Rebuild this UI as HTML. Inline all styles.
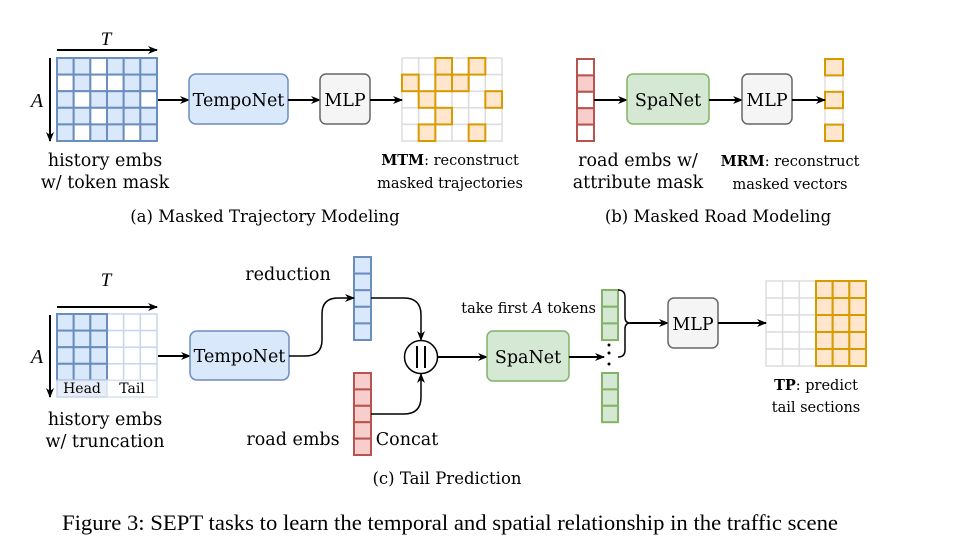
<!DOCTYPE html>
<html><head><meta charset="utf-8"><style>
html,body{margin:0;padding:0;background:#fff;}
svg{display:block;}
text{font-family:"DejaVu Serif",serif;fill:#000;}
</style></head><body>
<svg id="s" width="960" height="552" viewBox="0 0 960 552" xmlns="http://www.w3.org/2000/svg">
<defs>
<marker id="ar" markerWidth="10" markerHeight="8" refX="9" refY="4" orient="auto" markerUnits="userSpaceOnUse"><path d="M0,0 L10,4 L0,8 L3,4 z" fill="#000"/></marker>
</defs>
<g id="grids"></g>
<line x1="57" y1="50" x2="157" y2="50" stroke="#000" stroke-width="2" marker-end="url(#ar)"/>
<text x="106" y="45" font-size="19" font-style="italic" text-anchor="middle" style="font-family:'Liberation Serif',serif">T</text>
<line x1="50" y1="58" x2="50" y2="141" stroke="#000" stroke-width="2" marker-end="url(#ar)"/>
<text x="37" y="107" font-size="20" font-style="italic" text-anchor="middle" style="font-family:'Liberation Serif',serif">A</text>
<line x1="158" y1="100" x2="189" y2="100" stroke="#000" stroke-width="2" marker-end="url(#ar)"/>
<rect x="189" y="74" width="99" height="50" rx="7" fill="#dae8fc" stroke="#6c8ebf" stroke-width="1.5"/>
<text x="238.5" y="106" font-size="17.5" text-anchor="middle">TempoNet</text>
<line x1="288" y1="100" x2="320" y2="100" stroke="#000" stroke-width="2" marker-end="url(#ar)"/>
<rect x="320" y="74" width="50" height="50" rx="6" fill="#f5f5f5" stroke="#666" stroke-width="1.5"/>
<text x="345" y="106" font-size="17.5" text-anchor="middle">MLP</text>
<line x1="370" y1="100" x2="402" y2="100" stroke="#000" stroke-width="2" marker-end="url(#ar)"/>
<text x="105" y="166" font-size="17.5" text-anchor="middle">history embs</text>
<text x="105" y="188" font-size="17.5" text-anchor="middle">w/ token mask</text>
<text x="450" y="165" font-size="14.5" text-anchor="middle"><tspan font-weight="bold">MTM</tspan>: reconstruct</text>
<text x="450" y="188" font-size="14.5" text-anchor="middle">masked trajectories</text>
<text x="265" y="222" font-size="16.5" text-anchor="middle">(a) Masked Trajectory Modeling</text>
<line x1="594" y1="100" x2="627" y2="100" stroke="#000" stroke-width="2" marker-end="url(#ar)"/>
<rect x="627" y="74" width="82" height="50" rx="6" fill="#d5e8d4" stroke="#82b366" stroke-width="1.5"/>
<text x="668" y="106" font-size="17.5" text-anchor="middle">SpaNet</text>
<line x1="709" y1="100" x2="742" y2="100" stroke="#000" stroke-width="2" marker-end="url(#ar)"/>
<rect x="742" y="74" width="50" height="50" rx="6" fill="#f5f5f5" stroke="#666" stroke-width="1.5"/>
<text x="767" y="106" font-size="17.5" text-anchor="middle">MLP</text>
<line x1="792" y1="100" x2="825" y2="100" stroke="#000" stroke-width="2" marker-end="url(#ar)"/>
<text x="638" y="166" font-size="17.5" text-anchor="middle">road embs w/</text>
<text x="638" y="188" font-size="17.5" text-anchor="middle">attribute mask</text>
<text x="790" y="166" font-size="14.5" text-anchor="middle"><tspan font-weight="bold">MRM</tspan>: reconstruct</text>
<text x="790" y="189" font-size="14.5" text-anchor="middle">masked vectors</text>
<text x="718" y="222" font-size="16.5" text-anchor="middle">(b) Masked Road Modeling</text>
<text x="106" y="286" font-size="19" font-style="italic" text-anchor="middle" style="font-family:'Liberation Serif',serif">T</text>
<line x1="57" y1="307" x2="157" y2="307" stroke="#000" stroke-width="2" marker-end="url(#ar)"/>
<line x1="50" y1="315" x2="50" y2="397" stroke="#000" stroke-width="2" marker-end="url(#ar)"/>
<text x="37" y="363" font-size="20" font-style="italic" text-anchor="middle" style="font-family:'Liberation Serif',serif">A</text>
<line x1="158" y1="356" x2="190" y2="356" stroke="#000" stroke-width="2" marker-end="url(#ar)"/>
<rect x="190" y="331" width="99" height="49" rx="7" fill="#dae8fc" stroke="#6c8ebf" stroke-width="1.5"/>
<text x="239.5" y="362" font-size="17.5" text-anchor="middle">TempoNet</text>
<text x="105" y="425" font-size="17.5" text-anchor="middle">history embs</text>
<text x="105" y="447" font-size="17.5" text-anchor="middle">w/ truncation</text>
<text x="288" y="280" font-size="17.5" text-anchor="middle">reduction</text>
<text x="293" y="445" font-size="17.5" text-anchor="middle">road embs</text>
<text x="407" y="445" font-size="17.5" text-anchor="middle">Concat</text>
<path d="M289,356 L305,356 Q322,356 322,340 L322,314 Q322,298 338,298 L354,298" fill="none" stroke="#000" stroke-width="1.5" marker-end="url(#ar)"/>
<path d="M371,298 L404,298 Q421,298 421,315 L421,340" fill="none" stroke="#000" stroke-width="1.5" marker-end="url(#ar)"/>
<path d="M371,414 L404,414 Q421,414 421,397 L421,374" fill="none" stroke="#000" stroke-width="1.5" marker-end="url(#ar)"/>
<circle cx="421" cy="357" r="16.5" fill="#fff" stroke="#000" stroke-width="1.5"/>
<line x1="417" y1="346" x2="417" y2="368" stroke="#000" stroke-width="2"/>
<line x1="425" y1="346" x2="425" y2="368" stroke="#000" stroke-width="2"/>
<line x1="437.5" y1="357" x2="487" y2="357" stroke="#000" stroke-width="2" marker-end="url(#ar)"/>
<rect x="487" y="331" width="82" height="50" rx="6" fill="#d5e8d4" stroke="#82b366" stroke-width="1.5"/>
<text x="528" y="363" font-size="17.5" text-anchor="middle">SpaNet</text>
<line x1="569" y1="357" x2="604" y2="357" stroke="#000" stroke-width="2" marker-end="url(#ar)"/>
<circle cx="609" cy="345" r="1.5" fill="#000"/><circle cx="609" cy="353" r="1.5" fill="#000"/><circle cx="609" cy="364" r="1.5" fill="#000"/>
<text x="596" y="313" font-size="14.5" text-anchor="end">take first <tspan font-style="italic">A</tspan> tokens</text>
<path d="M618,290 Q625,290 625,297 L625,317 Q625,323 630,323 Q625,323 625,329 L625,350 Q625,357 618,357" fill="none" stroke="#000" stroke-width="1.5"/>
<line x1="630" y1="323" x2="668" y2="323" stroke="#000" stroke-width="2" marker-end="url(#ar)"/>
<rect x="668" y="298" width="50" height="50" rx="6" fill="#f5f5f5" stroke="#666" stroke-width="1.5"/>
<text x="693" y="330" font-size="17.5" text-anchor="middle">MLP</text>
<line x1="718" y1="323" x2="766" y2="323" stroke="#000" stroke-width="2" marker-end="url(#ar)"/>
<text x="816" y="390" font-size="14.5" text-anchor="middle"><tspan font-weight="bold">TP</tspan>: predict</text>
<text x="816" y="412" font-size="14.5" text-anchor="middle">tail sections</text>
<text x="447" y="484" font-size="16.5" text-anchor="middle">(c) Tail Prediction</text>
<text x="62" y="530" font-size="22" textLength="776" lengthAdjust="spacingAndGlyphs" style="font-family:'Liberation Serif',serif">Figure 3: SEPT tasks to learn the temporal and spatial relationship in the traffic scene</text>
</svg>
<script>
var g=document.getElementById('grids'),NS='http://www.w3.org/2000/svg';
function r(x,y,w,h,f,s,sw){var e=document.createElementNS(NS,'rect');e.setAttribute('x',x);e.setAttribute('y',y);e.setAttribute('width',w);e.setAttribute('height',h);e.setAttribute('fill',f);e.setAttribute('stroke',s);e.setAttribute('stroke-width',sw||2);g.appendChild(e);}
var cw=100/6,ch=83/5;
var pa=["BBWBBB","WBWWBB","BWBBBW","BBWBBB","BWBBWB"];
for(var i=0;i<5;i++)for(var j=0;j<6;j++)r(57+j*cw,58+i*ch,cw,ch,pa[i][j]=='B'?'#dae8fc':'#fff','#6c8ebf',2);
var po=["..O.O.","O.OO..",".O...O","..O...",".O..O."];
for(var i=0;i<5;i++)for(var j=0;j<6;j++)if(po[i][j]=='.')r(402+j*cw,58+i*ch,cw,ch,'#fff','#ddd',1.5);
for(var i=0;i<5;i++)for(var j=0;j<6;j++)if(po[i][j]=='O')r(402+j*cw,58+i*ch,cw,ch,'#ffe6cc','#d79b00',2);
for(var i=0;i<5;i++)r(577,59+i*16.4,17,16.4,(i==1||i==3)?'#f8cecc':'#fff','#b85450',2);
for(var i=0;i<5;i++)if(i%2)r(825,59+i*16.4,18,16.4,'#fff','#e0e0e0',1.5);
for(var i=0;i<5;i++)if(!(i%2))r(825,59+i*16.4,18,16.4,'#ffe6cc','#d79b00',2);
for(var i=0;i<4;i++)for(var j=3;j<6;j++)r(57+j*cw,314+i*ch,cw,ch,'#fff','#c9d6ea',1.5);
for(var i=0;i<4;i++)for(var j=0;j<3;j++)r(57+j*cw,314+i*ch,cw,ch,'#dae8fc','#6c8ebf',2);
r(57,314+4*ch,50,ch,'#e6eefa','#c9d6ea',1.5);r(107,314+4*ch,50,ch,'#fff','#d9e2f0',1.5);
var t1=document.createElementNS(NS,'text');t1.setAttribute('x',82);t1.setAttribute('y',393);t1.setAttribute('font-size',14);t1.setAttribute('text-anchor','middle');t1.textContent='Head';g.appendChild(t1);
var t2=document.createElementNS(NS,'text');t2.setAttribute('x',132);t2.setAttribute('y',393);t2.setAttribute('font-size',14);t2.setAttribute('text-anchor','middle');t2.textContent='Tail';g.appendChild(t2);
for(var i=0;i<5;i++)r(354,257+i*16.6,17,16.6,'#dae8fc','#6c8ebf',2);
for(var i=0;i<5;i++)r(354,373+i*16.4,17,16.4,'#f8cecc','#b85450',2);
for(var i=0;i<3;i++)r(602,290+i*16.7,16,16.7,'#d5e8d4','#82b366',2);
for(var i=0;i<3;i++)r(602,373+i*16.4,16,16.4,'#d5e8d4','#82b366',2);
var ch2=85/5;
for(var i=0;i<5;i++)for(var j=0;j<3;j++)r(766+j*cw,281+i*ch2,cw,ch2,'#fff','#ddd',1.5);
for(var i=0;i<5;i++)for(var j=3;j<6;j++)r(766+j*cw,281+i*ch2,cw,ch2,'#ffe6cc','#d79b00',2);
</script>
</body></html>
